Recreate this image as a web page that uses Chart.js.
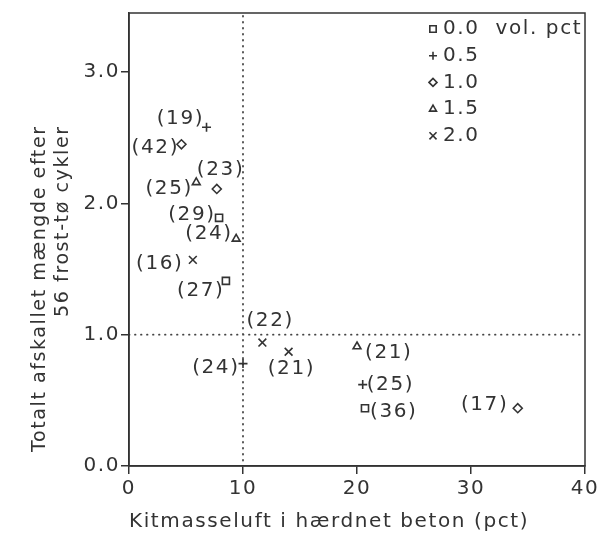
<!DOCTYPE html>
<html>
<head>
<meta charset="utf-8">
<script src="https://cdn.jsdelivr.net/npm/chart.js@4/dist/chart.umd.min.js"></script>
<style>
  html, body { margin: 0; padding: 0; background: #fff; }
  #wrap { width: 602px; height: 539px; }
</style>
</head>
<body>
<div id="wrap"><canvas id="chart"></canvas></div>
<script>
// fiberindhold (vol. pct) - en serie pr. niveau
const volLevels = ['0.0', '0.5', '1.0', '1.5', '2.0'];

// kitmasseluft i hærdnet beton (pct)
const airPct = [
    [7.9, 8.5, 20.7],
    [6.8, 10.0, 20.5],
    [4.6, 7.7, 34.1],
    [5.9, 9.4, 20.0],
    [5.6, 11.7, 14.0]
];

// totalt afskallet mængde efter 56 frost-tø cykler
const scaling = [
    [1.89, 1.41, 0.44],
    [2.58, 0.78, 0.62],
    [2.45, 2.11, 0.44],
    [2.16, 1.73, 0.91],
    [1.57, 0.94, 0.87]
];

// tal i parentes ved hvert punkt
const pointNotes = [
    [29, 27, 36],
    [19, 24, 25],
    [42, 23, 17],
    [25, 24, 21],
    [16, 22, 21]
];

const xTicks = [0, 10, 20, 30, 40];
const yTicks = [0, 1, 2, 3];
const refAir = 10;
const refScaling = 1.0;

const xTitle = 'Kitmasseluft i hærdnet beton (pct)';
const yTitle = ['Totalt afskallet mængde efter', '56 frost-tø cykler'];

// udseende
const ink = '#333';
const fontFamily = "'DejaVu Sans', sans-serif";
const spacing = 1.6;
const markerStyles = ['rect', 'cross', 'rectRot', 'triangle', 'crossRot'];
const markerSizes = [5, 4.5, 4.5, 4.5, 5.5];

// placering af parentes-tekst: [dx, dy, justering]
const noteOffsets = [
    [[-5, -3, 'right'], [-3, 10, 'right'], [5, 4, 'left']],
    [[-4, -8, 'right'], [-5, 4, 'right'], [4, 0, 'left']],
    [[-4, 3, 'right'], [3, -19, 'center'], [-11, -3, 'right']],
    [[-5, 6, 'right'], [-5, -5, 'right'], [8, 6, 'left']],
    [[-11, 4, 'right'], [7, -22, 'center'], [2, 17, 'center']]
];

const extras = {
    id: 'extras',
    beforeInit(chart) {
        chart.ctx.letterSpacing = spacing + 'px';
    },
    beforeDraw(chart) {
        chart.ctx.letterSpacing = spacing + 'px';
    },
    beforeDatasetsDraw(chart) {
        const { ctx, chartArea: a, scales } = chart;
        const gx = scales.x.getPixelForValue(refAir);
        const gy = scales.y.getPixelForValue(refScaling);
        ctx.save();
        ctx.strokeStyle = '#444';
        ctx.lineWidth = 1.8;
        ctx.lineCap = 'round';
        ctx.setLineDash([0.5, 5.5]);
        ctx.beginPath();
        ctx.moveTo(gx, a.top + 3);
        ctx.lineTo(gx, a.bottom);
        ctx.moveTo(a.left, gy);
        ctx.lineTo(a.right - 2, gy);
        ctx.stroke();
        ctx.restore();
    },
    afterDatasetsDraw(chart) {
        const { ctx, chartArea: a } = chart;
        ctx.save();

        // ramme
        ctx.strokeStyle = ink;
        ctx.lineWidth = 1.5;
        ctx.strokeRect(a.left, a.top, a.right - a.left, a.bottom - a.top);

        // tekst ved punkterne (sidste bogstavafstand trækkes fra)
        ctx.fillStyle = ink;
        ctx.font = '20px ' + fontFamily;
        ctx.textBaseline = 'middle';
        chart.data.datasets.forEach((ds, i) => {
            chart.getDatasetMeta(i).data.forEach((pt, j) => {
                const [dx, dy, align] = noteOffsets[i][j];
                const fix = align === 'right' ? spacing : align === 'center' ? spacing / 2 : 0;
                ctx.textAlign = align;
                ctx.fillText('(' + pointNotes[i][j] + ')', pt.x + dx + fix, pt.y + dy);
            });
        });

        // legende
        volLevels.forEach((lvl, i) => {
            const y = 29 + i * 26.7;
            ctx.strokeStyle = ink;
            ctx.fillStyle = '#fff';
            ctx.lineWidth = 1.6;
            Chart.helpers.drawPoint(ctx, {
                pointStyle: markerStyles[i],
                radius: markerSizes[i] - 0.5,
                rotation: 0,
                borderWidth: 1.6
            }, 433, y);
            ctx.fillStyle = ink;
            ctx.textAlign = 'left';
            ctx.fillText(i === 0 ? lvl + '  vol. pct' : lvl, 443, y);
        });

        // y-aksens titel
        ctx.font = '19px ' + fontFamily;
        ctx.textAlign = 'right';
        yTitle.forEach((line, k) => {
            ctx.save();
            ctx.translate(40 + k * 23, 127 - spacing);
            ctx.rotate(-Math.PI / 2);
            ctx.fillText(line, 0, 0);
            ctx.restore();
        });
        ctx.restore();
    }
};

const datasets = volLevels.map((lvl, i) => ({
    label: lvl,
    data: airPct[i].map((x, j) => ({ x: x, y: scaling[i][j] })),
    pointStyle: markerStyles[i],
    pointRadius: markerSizes[i],
    pointHoverRadius: markerSizes[i],
    pointBorderWidth: 1.6,
    borderColor: ink,
    backgroundColor: '#fff',
    showLine: false
}));

new Chart(document.getElementById('chart'), {
    type: 'scatter',
    data: { datasets: datasets },
    options: {
        responsive: true,
        maintainAspectRatio: false,
        animation: false,
        layout: { padding: { top: 11, right: 17, left: 0, bottom: 0 } },
        plugins: {
            legend: { display: false },
            tooltip: { enabled: false }
        },
        scales: {
            x: {
                type: 'linear',
                min: 0,
                max: 40,
                afterFit: s => { s.height = 73; },
                afterBuildTicks: s => { s.ticks = xTicks.map(v => ({ value: v })); },
                grid: { drawOnChartArea: false, drawTicks: true, tickLength: 8, color: ink, lineWidth: 1.5 },
                border: { color: ink, width: 1.5 },
                ticks: { color: ink, padding: 3, font: { family: fontFamily, size: 20 } },
                title: {
                    display: true,
                    text: xTitle,
                    align: 'start',
                    color: ink,
                    padding: { top: 0, bottom: 5 },
                    font: { family: fontFamily, size: 20 }
                }
            },
            y: {
                type: 'linear',
                min: 0,
                max: 3.45,
                afterFit: s => { s.width = 129; },
                afterBuildTicks: s => { s.ticks = yTicks.map(v => ({ value: v })); },
                grid: { drawOnChartArea: false, drawTicks: true, tickLength: 8, color: ink, lineWidth: 1.5 },
                border: { color: ink, width: 1.5 },
                ticks: {
                    color: ink,
                    padding: 1,
                    font: { family: fontFamily, size: 20 },
                    callback: v => v.toFixed(1)
                }
            }
        }
    },
    plugins: [extras]
});
</script>
</body>
</html>
